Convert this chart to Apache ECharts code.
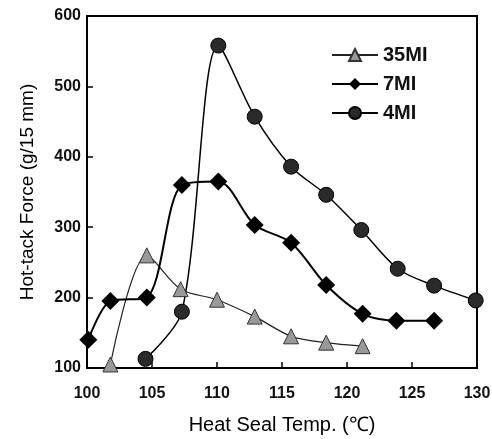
<!DOCTYPE html>
<html>
<head>
<meta charset="utf-8">
<script src="https://cdn.jsdelivr.net/npm/echarts@6/dist/echarts.min.js"></script>
<style>
  html, body { margin: 0; padding: 0; background: #fff; }
  #chart { width: 492px; height: 439px; }
</style>
</head>
<body>
<div id="chart"></div>
<script>
// heat seal temperature (C) and hot-tack force (g/15mm)
var temp35 = [101.8, 104.6, 107.2, 110.0, 112.9, 115.7, 118.4, 121.2];
var force35 = [105, 260, 212, 197, 173, 145, 136, 131];

var temp7 = [100.1, 101.8, 104.6, 107.3, 110.1, 112.9, 115.7, 118.4, 121.2, 123.8, 126.7];
var force7 = [140, 195, 200, 360, 365, 303, 278, 218, 177, 167, 167];

var temp4 = [104.5, 107.3, 110.1, 112.9, 115.7, 118.4, 121.1, 123.9, 126.7, 129.9];
var force4 = [113, 180, 558, 457, 386, 346, 296, 241, 217, 196];

function pairs(xs, ys) {
  var out = [];
  for (var i = 0; i < xs.length; i++) {
    out.push([xs[i], ys[i]]);
  }
  return out;
}

var font = 'Liberation Sans, Arial, sans-serif';
var chart = echarts.init(document.getElementById('chart'));

var option = {
  backgroundColor: '#fff',
  animation: false,
  textStyle: { fontFamily: font, color: '#000' },
  grid: {
    left: 87, right: 15, top: 16, bottom: 71,
    outerBoundsMode: 'none',
    show: true, borderColor: '#000', borderWidth: 2
  },
  legend: {
    orient: 'vertical',
    left: 326, top: 40,
    itemWidth: 46, itemHeight: 15, itemGap: 9,
    textStyle: { fontSize: 20, fontWeight: 'bold', fontFamily: font, color: '#111' },
    data: ['35MI', '7MI', '4MI']
  },
  xAxis: {
    type: 'value', min: 100, max: 130, interval: 5,
    name: 'Heat Seal Temp. (℃)', nameLocation: 'middle', nameGap: 47,
    nameTextStyle: { fontSize: 20, fontFamily: font, color: '#000' },
    axisLine: { lineStyle: { color: '#000', width: 2 } },
    axisTick: { inside: true, length: 6, lineStyle: { color: '#000', width: 1.5 } },
    axisLabel: { fontSize: 16, fontWeight: 'bold', color: '#111', margin: 18 },
    splitLine: { show: false }
  },
  yAxis: {
    type: 'value', min: 100, max: 600, interval: 100,
    name: 'Hot-tack Force (g/15 mm)', nameLocation: 'middle', nameGap: 50,
    nameTextStyle: { fontSize: 19, fontFamily: font, color: '#000' },
    axisLine: { lineStyle: { color: '#000', width: 2 } },
    axisTick: { inside: true, length: 6, lineStyle: { color: '#000', width: 1.5 } },
    axisLabel: { fontSize: 16, fontWeight: 'bold', color: '#111', margin: 6 },
    splitLine: { show: false }
  },
  series: [
    {
      name: '35MI', type: 'line', smooth: 0.3,
      data: pairs(temp35, force35),
      symbol: 'triangle', symbolSize: 15,
      lineStyle: { color: '#222', width: 1.2 },
      itemStyle: { color: '#999', borderColor: '#333', borderWidth: 1 }
    },
    {
      name: '7MI', type: 'line', smooth: 0.3,
      data: pairs(temp7, force7),
      symbol: 'diamond', symbolSize: 18,
      lineStyle: { color: '#000', width: 2 },
      itemStyle: { color: '#000' }
    },
    {
      name: '4MI', type: 'line', smooth: 0.3,
      data: pairs(temp4, force4),
      symbol: 'circle', symbolSize: 15,
      lineStyle: { color: '#000', width: 1.5 },
      itemStyle: { color: '#2a2a2a', borderColor: '#000', borderWidth: 1 }
    }
  ]
};

chart.setOption(option);
</script>
</body>
</html>
